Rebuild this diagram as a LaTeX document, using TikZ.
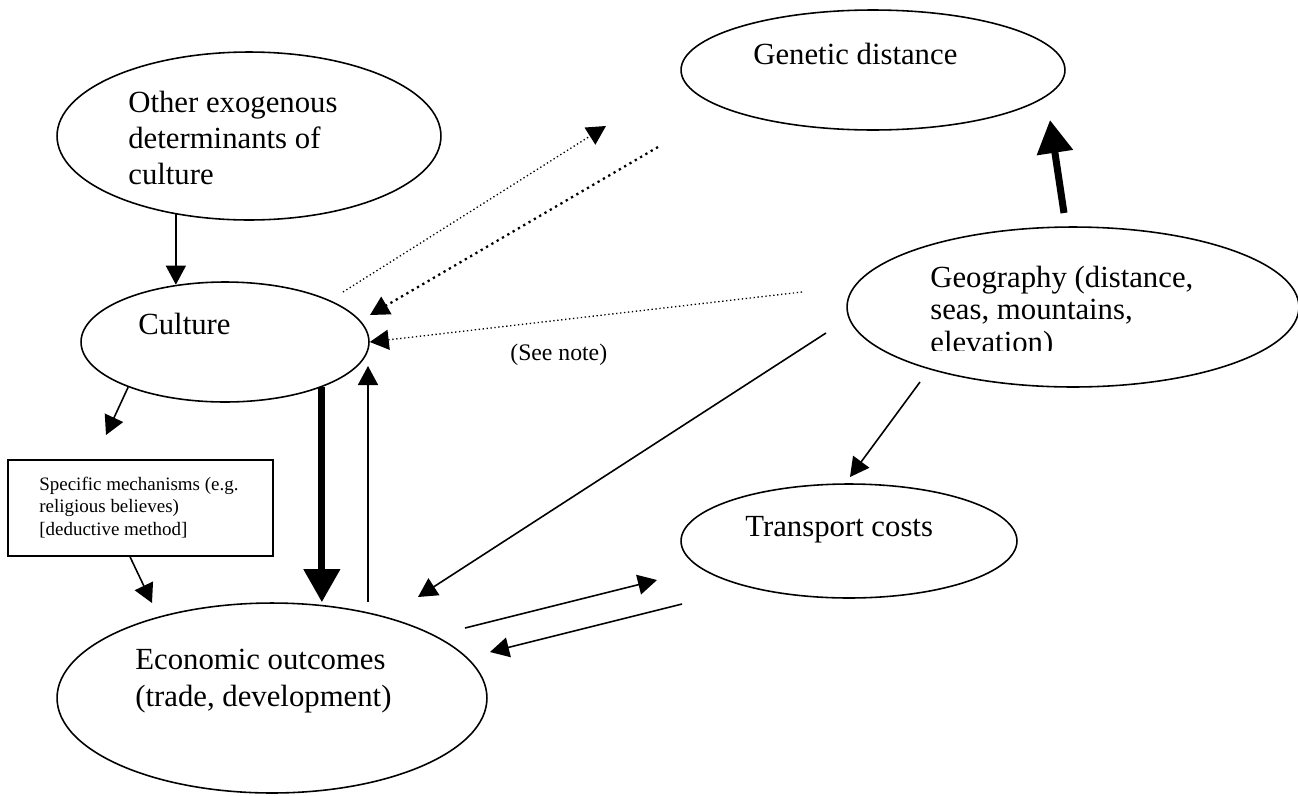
\documentclass[tikz,border=0pt]{standalone}
\usepackage{fontspec}
\setmainfont{Liberation Serif}
\usetikzlibrary{arrows.meta,shapes.geometric}

\begin{document}
\begin{tikzpicture}[
  x=0.02cm, y=-0.02cm,
  oval/.style={ellipse, draw, line width=0.9pt, inner sep=0pt},
  lbl/.style={anchor=base west, inner sep=0pt, align=left,
    font=\fontsize{17.5}{20.4}\selectfont},
  arr/.style={-{Triangle[length=0.38cm,width=0.4cm]}, line width=0.9pt},
  bigarr/.style={-{Triangle[length=0.66cm,width=0.7cm]}, line width=4pt},
  thindots/.style={arr, line width=0.75pt, dash pattern=on 0.75pt off 1.5pt},
  thickdots/.style={arr, line width=1.3pt, dash pattern=on 1.3pt off 2.2pt}
]
\useasboundingbox (0,0) rectangle (1298,795);

% Ellipses and box
\node[oval, minimum width=7.68cm, minimum height=3.36cm] (other) at (249,136) {};
\node[oval, minimum width=5.76cm, minimum height=2.4cm] (culture) at (225,342) {};
\node[oval, minimum width=8.6cm, minimum height=3.8cm] (econ) at (272,698) {};
\node[oval, minimum width=7.68cm, minimum height=2.4cm] (genetic) at (873,70) {};
\node[oval, minimum width=9.04cm, minimum height=3.2cm] (geo) at (1073,307) {};
\node[oval, minimum width=6.72cm, minimum height=2.28cm] (transport) at (849,541) {};
\node[draw, line width=0.9pt, minimum width=5.3cm, minimum height=1.92cm] (mech) at (140.5,508) {};

% Texts (multi-line ones sit on their last baseline)
\node[lbl] (othertxt) at (128,184) {Other exogenous\\determinants of\\culture};
\node[lbl] (culturetxt) at (138,334) {Culture};
\node[lbl, font=\fontsize{17.5}{21}\selectfont] (econtxt) at (135,706)
  {Economic outcomes\\(trade, development)};
\node[lbl] (genetictxt) at (753,64) {Genetic distance};
\begin{scope}
  \clip (900,240) rectangle (1260,350);
  \node[lbl, font=\fontsize{17.5}{18.5}\selectfont] (geotxt) at (930,352)
    {Geography (distance,\\seas, mountains,\\elevation)};
\end{scope}
\node[lbl] (transporttxt) at (745,536) {Transport costs};
\node[lbl, font=\fontsize{10.8}{12.75}\selectfont] (mechtxt) at (39,535)
  {Specific mechanisms (e.g.\\religious believes)\\{}[deductive method]};
\node[lbl, font=\fontsize{13.5}{16}\selectfont] (seenote) at (510,360) {(See note)};

% Free ends
\coordinate (c2mech) at (106,435);
\coordinate (mech2econ) at (152,603);
\coordinate (cultin) at (368,366);
\coordinate (cg1) at (343,292);
\coordinate (cg2) at (606,126);
\coordinate (gc1) at (658,147);
\coordinate (gc2) at (370,315);
\coordinate (geoc) at (802,292);
\coordinate (geotop) at (1064,213);
\coordinate (genbot) at (1050,120);
\coordinate (geoe) at (826,333);
\coordinate (econne) at (418,597);
\coordinate (geot) at (920,382);
\coordinate (transtop) at (850,477);
\coordinate (et1) at (465,628);
\coordinate (et2) at (657,580);
\coordinate (te1) at (682,604);
\coordinate (te2) at (490,652);

% Arrows
\draw[arr] (other.227) -- (other.227 |- culture.130);
\draw[arr] (culture.205) -- (c2mech);
\draw[arr] ([xshift=-0.21cm]mech.south) -- (mech2econ);
\draw[bigarr] (culture.335) -- (culture.335 |- econ.north);
\draw[arr] (econ.north -| cultin) -- (cultin);
\draw[thindots] (cg1) -- (cg2);
\draw[thickdots] (gc1) -- (gc2);
\draw[thindots] (geoc) -- (culture.east);
\draw[bigarr] (geotop) -- (genbot);
\draw[arr] (geoe) -- (econne);
\draw[arr] (geot) -- (transtop);
\draw[arr] (et1) -- (et2);
\draw[arr] (te1) -- (te2);
\end{tikzpicture}
\end{document}
